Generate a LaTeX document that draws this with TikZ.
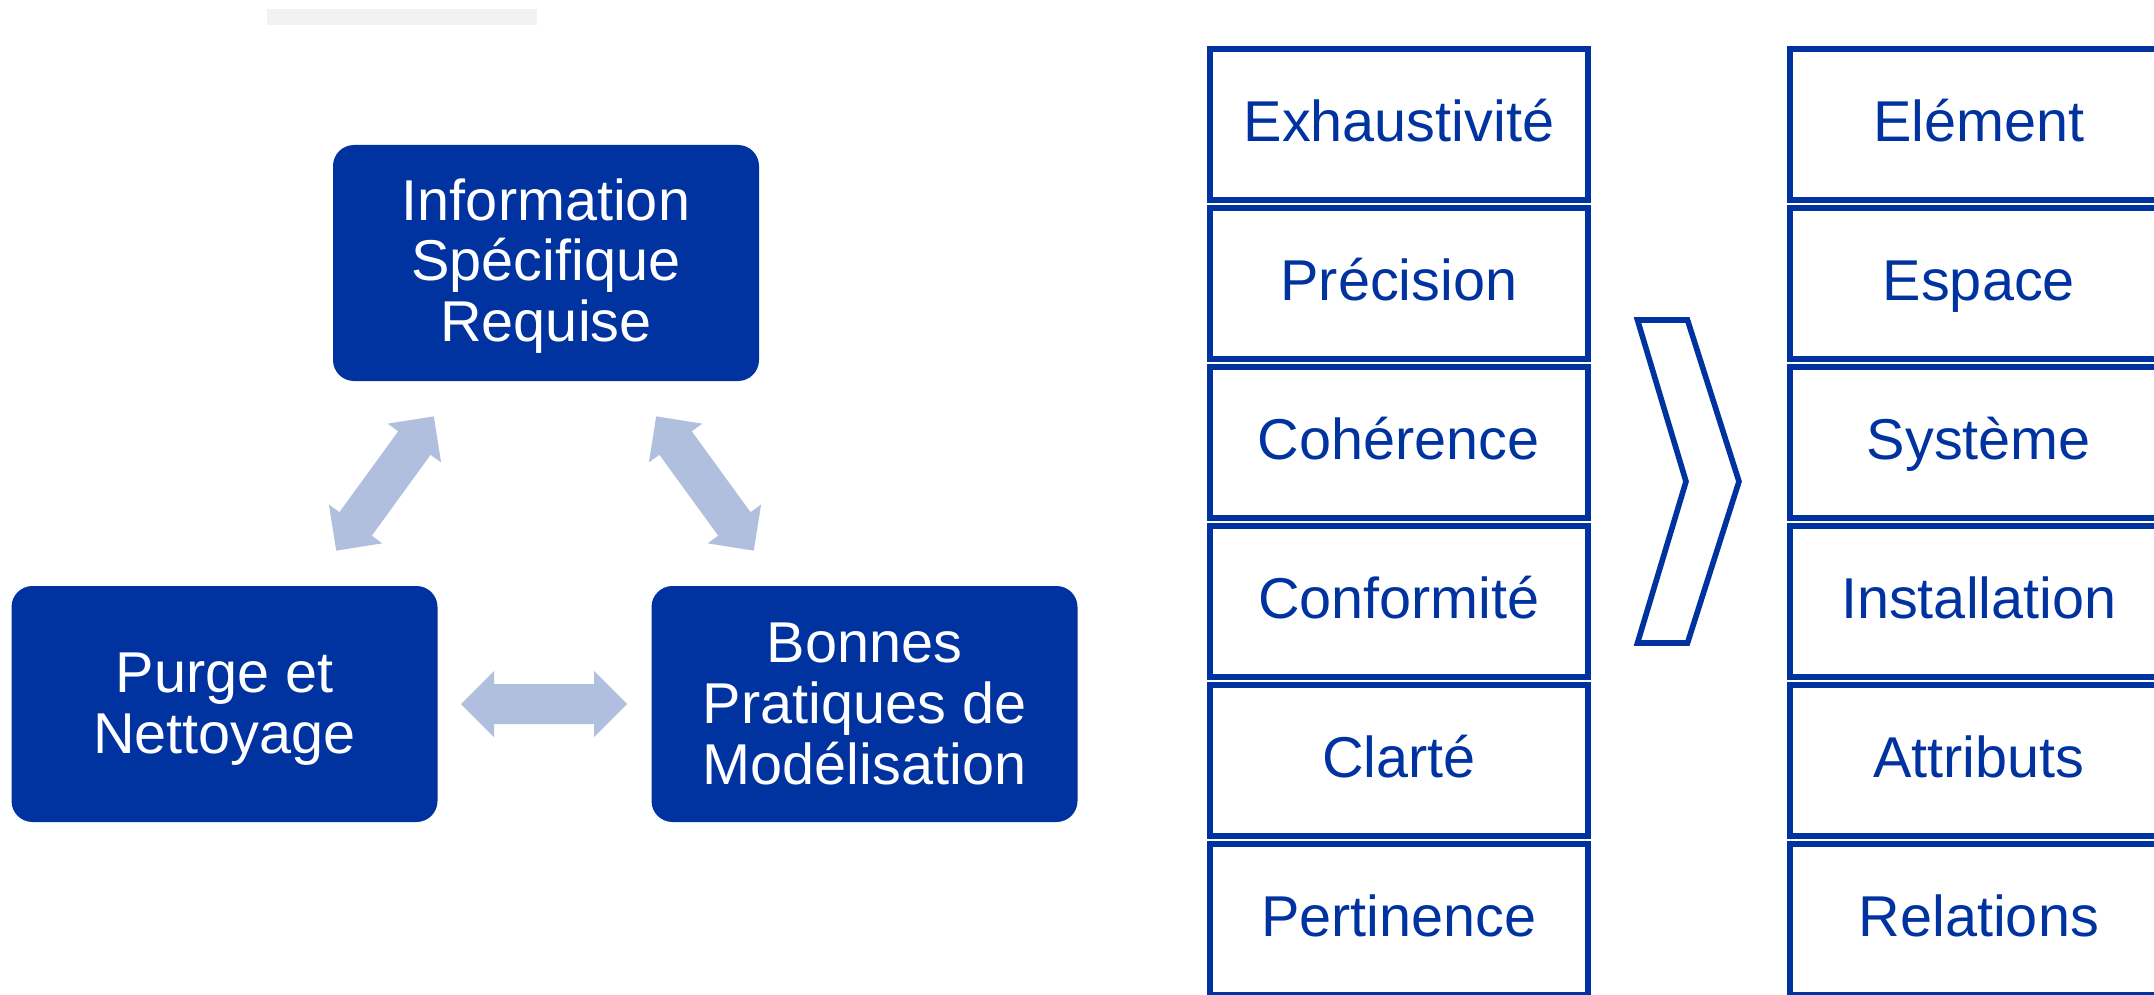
\documentclass[tikz,border=0pt]{standalone}
\usepackage{fontspec}
\setmainfont{Liberation Sans}
\definecolor{dblue}{HTML}{0033A0}
\definecolor{lblue}{HTML}{B1BFDF}
\definecolor{lgray}{HTML}{F2F2F2}
\tikzset{
  bigbox/.style={fill=dblue, draw=none, rounded corners=10.5pt,
    minimum width=213pt, minimum height=118pt, inner sep=0pt},
  boxtext/.style={text=white, align=center,
    font=\fontsize{28.8}{30.35}\selectfont, inner sep=0pt},
  cellbox/.style={draw=dblue, line width=2.8pt, fill=white,
    minimum width=189pt, minimum height=75.7pt, inner sep=0pt,
    text=dblue, font=\fontsize{28.8}{30.35}\selectfont,
    text height=17.2pt, text depth=0pt},
  chevronline/.style={draw=dblue, line width=2.8pt, miter limit=10},
  dblarrow/.pic={\fill[lblue] (-83,0) -- (-50,-33) -- (-50,-20) -- (50,-20)
     -- (50,-33) -- (83,0) -- (50,33) -- (50,20) -- (-50,20) -- (-50,33) -- cycle;}
}
\begin{document}
\begin{tikzpicture}[x=0.5pt,y=-0.5pt]
\useasboundingbox[fill=white] (0,0) rectangle (2154,995);
% gray bar
\fill[lgray] (267,9) rectangle (537,25);
% big boxes
\node[bigbox] (info) at (546,263) {};
\node[boxtext] (infotxt) at (546,266) {Information\\Spécifique\\Requise};
\node[bigbox] (purge) at (224.5,704) {};
\node[boxtext] (purgetxt) at (224.5,709.5) {Purge et\\Nettoyage};
\node[bigbox] (bonnes) at (864.5,704) {};
\node[boxtext] (bonnestxt) at (864.5,704) {Bonnes\\Pratiques de\\Modélisation};
% double arrows
\pic[rotate=54] at (385,483.5) {dblarrow};
\pic[rotate=-54] at (705,483.5) {dblarrow};
\pic at (544,704) {dblarrow};
% left column
\node[cellbox] (l1) at (1398.85,124.5) {Exhaustivité};
\node[cellbox] (l2) at (1398.85,283.5) {Précision};
\node[cellbox] (l3) at (1398.85,442.5) {Cohérence};
\node[cellbox] (l4) at (1398.85,601.5) {Conformité};
\node[cellbox] (l5) at (1398.85,760.5) {Clarté};
\node[cellbox] (l6) at (1398.85,919.5) {Pertinence};
% right column
\node[cellbox] (r1) at (1978.8,124.5) {Elément};
\node[cellbox] (r2) at (1978.8,283.5) {Espace};
\node[cellbox] (r3) at (1978.8,442.5) {Système};
\node[cellbox] (r4) at (1978.8,601.5) {Installation};
\node[cellbox] (r5) at (1978.8,760.5) {Attributs};
\node[cellbox] (r6) at (1978.8,919.5) {Relations};
% chevron
\draw[chevronline] (1637.5,320) -- (1687.5,320) -- (1739,481.5) -- (1687.5,643)
  -- (1637.5,643) -- (1686,481.5) -- cycle;
\end{tikzpicture}
\end{document}
